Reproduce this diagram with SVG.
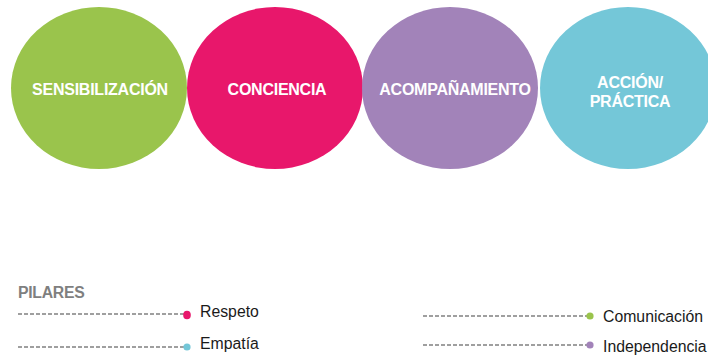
<svg xmlns="http://www.w3.org/2000/svg" width="708" height="360" viewBox="0 0 708 360">
<style>
.lbl{font-family:"Liberation Sans",Arial,sans-serif;font-weight:bold;font-size:16px;fill:#fff;text-anchor:middle;letter-spacing:-0.25px}
.leg{font-family:"Liberation Sans",Arial,sans-serif;font-size:15.8px;fill:#1a1a1a}
.dash{stroke:#808080;stroke-width:1.5;stroke-dasharray:4 2;fill:none}
</style>
<rect width="708" height="360" fill="#fff"/>
<g id="sensibilizacion">
<ellipse cx="99" cy="88" rx="88" ry="81" fill="#9AC44C"/>
<text class="lbl" x="100" y="95">SENSIBILIZACIÓN</text>
</g>
<g id="conciencia">
<ellipse cx="275" cy="88" rx="88" ry="81" fill="#E8176B"/>
<text class="lbl" x="277" y="95">CONCIENCIA</text>
</g>
<g id="acompanamiento">
<ellipse cx="450" cy="88" rx="88" ry="81" fill="#A283B9"/>
<text class="lbl" x="455" y="95">ACOMPAÑAMIENTO</text>
</g>
<g id="accion">
<ellipse cx="628" cy="88" rx="88" ry="81" fill="#74C7D8"/>
<text class="lbl" x="630" y="88">ACCIÓN/</text>
<text class="lbl" x="630" y="107">PRÁCTICA</text>
</g>
<text x="18" y="298" font-family="'Liberation Sans',Arial,sans-serif" font-weight="bold" font-size="15.8" fill="#7f7f7f" letter-spacing="-0.3">PILARES</text>
<g id="connectors">
<line class="dash" x1="18" y1="314" x2="184" y2="314"/>
<line class="dash" x1="18" y1="347" x2="184" y2="347"/>
<line class="dash" x1="423" y1="316" x2="587" y2="316"/>
<line class="dash" x1="423" y1="345" x2="587" y2="345"/>
</g>
<g id="respeto">
<ellipse cx="187" cy="315" rx="3.8" ry="4.3" fill="#E8176B"/>
<text class="leg" x="200" y="317">Respeto</text>
</g>
<g id="empatia">
<circle cx="187" cy="347" r="3.6" fill="#74C7D8"/>
<text class="leg" x="200" y="349">Empatía</text>
</g>
<g id="comunicacion">
<circle cx="590" cy="316" r="3.6" fill="#9AC44C"/>
<text class="leg" x="603" y="322">Comunicación</text>
</g>
<g id="independencia">
<circle cx="590" cy="345" r="3.6" fill="#A283B9"/>
<text class="leg" x="603" y="352">Independencia</text>
</g>
</svg>
